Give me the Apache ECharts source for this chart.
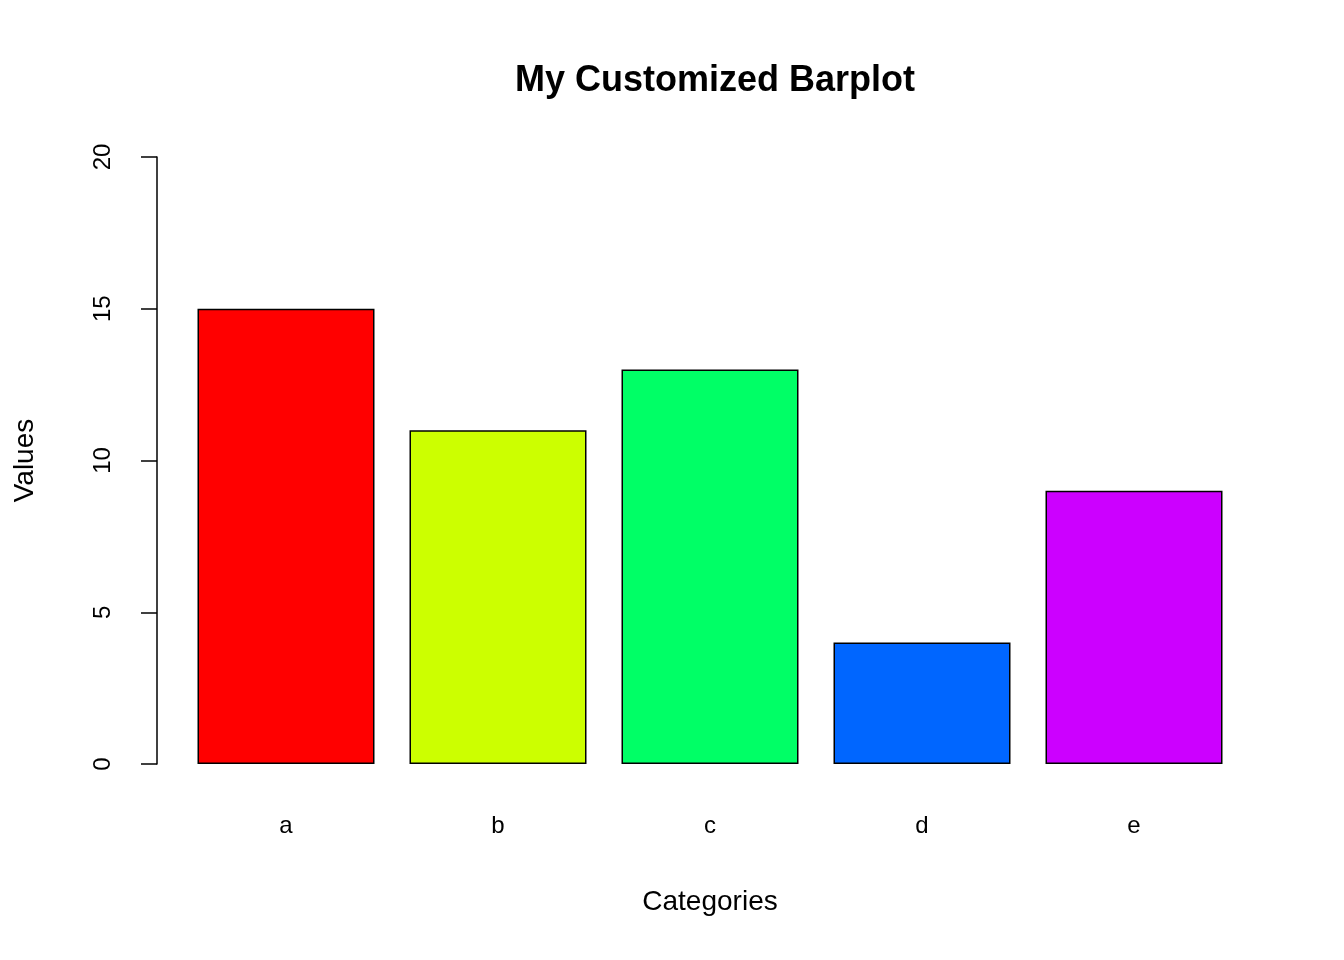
<!DOCTYPE html>
<html>
<head>
<meta charset="utf-8">
<script src="https://cdn.jsdelivr.net/npm/echarts@6/dist/echarts.min.js"></script>
<style>html,body{margin:0;padding:0;background:#fff}#main{width:1344px;height:960px}</style>
</head>
<body>
<div id="main"></div>
<script>
// data
var categories = ['a', 'b', 'c', 'd', 'e'];
var values = [15, 11, 13, 4, 9];
var barColors = ['#FF0000', '#CCFF00', '#00FF66', '#0066FF', '#CC00FF'];
var yTicks = [0, 5, 10, 15, 20];

var chart = echarts.init(document.getElementById('main'));
var font = 'Liberation Sans, Arial, sans-serif';
chart.setOption({
	animation: false,
	title: {
		text: 'My Customized Barplot',
		left: 710, top: 58, textAlign: 'center',
		textStyle: { fontFamily: font, fontSize: 36, fontWeight: 'bold', color: '#000' }
	},
	grid: { left: 180, right: 104, top: 157, bottom: 196 },
	xAxis: {
		type: 'category',
		data: categories,
		axisLine: { show: false },
		axisTick: { show: false },
		axisLabel: { margin: 50, fontFamily: font, fontSize: 24, color: '#000' },
		name: 'Categories', nameLocation: 'middle', nameGap: 124,
		nameTextStyle: { fontFamily: font, fontSize: 28, color: '#000' }
	},
	yAxis: {
		type: 'value',
		min: yTicks[0], max: yTicks[yTicks.length - 1], interval: 5,
		offset: 23,
		splitLine: { show: false },
		axisLine: { show: true, lineStyle: { color: '#000', width: 1.5 } },
		axisTick: { show: true, length: 16, lineStyle: { color: '#000', width: 1.5 } },
		axisLabel: { rotate: 90, margin: 42, fontFamily: font, fontSize: 24, color: '#000' },
		name: 'Values', nameLocation: 'middle', nameGap: 118, nameRotate: 90,
		nameTextStyle: { fontFamily: font, fontSize: 28, color: '#000' }
	},
	series: [{
		type: 'bar',
		barWidth: 177,
		data: values.map(function (v, i) {
			return { value: v, itemStyle: { color: barColors[i], borderColor: '#000', borderWidth: 1.5 } };
		})
	}]
});
</script>
</body>
</html>
